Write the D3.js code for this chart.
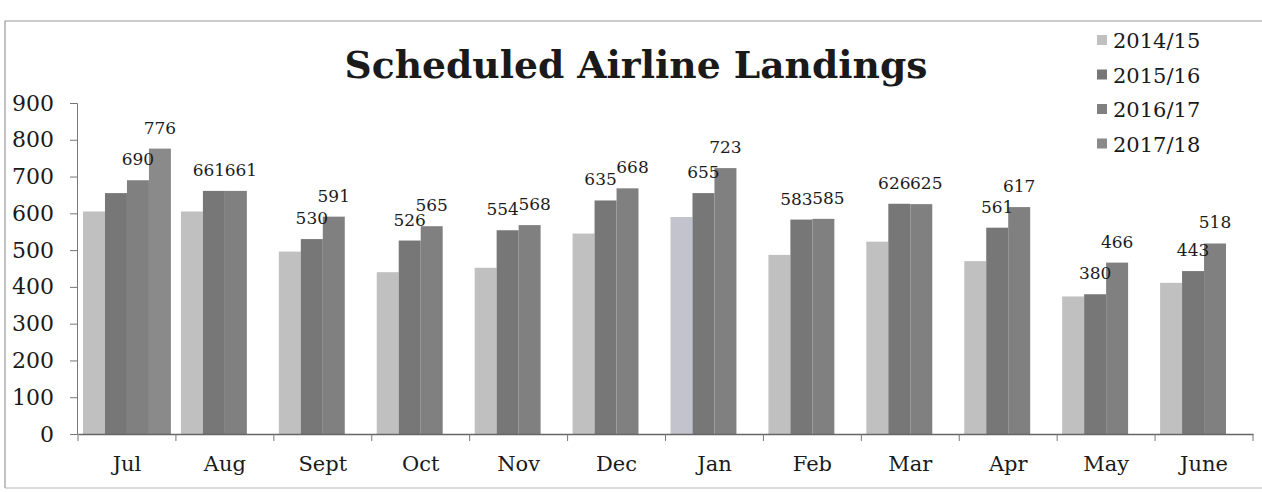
<!DOCTYPE html>
<html>
<head>
<meta charset="utf-8">
<script src="https://cdn.jsdelivr.net/npm/d3@7"></script>
<style>
  body { margin: 0; background: #fff; }
  svg { display: block; }
</style>
</head>
<body>
<div id="chart"></div>
<script>
/* Data */
const months = ['Jul', 'Aug', 'Sept', 'Oct', 'Nov', 'Dec', 'Jan', 'Feb', 'Mar', 'Apr', 'May', 'June'];
const seriesNames = ['2014/15', '2015/16', '2016/17', '2017/18'];
const y1415 = [605, 605, 496, 440, 452, 545, 590, 487, 523, 470, 374, 411];
const y1516 = [655, 661, 530, 526, 554, 635, 655, 583, 626, 561, 380, 443];
const y1617 = [690, 661, 591, 565, 568, 668, 723, 585, 625, 617, 466, 518];
const y1718 = [776, null, null, null, null, null, null, null, null, null, null, null];
const yTicks = [0, 100, 200, 300, 400, 500, 600, 700, 800, 900];

const seriesValues = [y1415, y1516, y1617, y1718];
const colors = ['#c0c0c0', '#777777', '#808080', '#8a8a8a'];

// Dimensions
const width = 1262, height = 492;
const margin = { left: 77, right: 9, top: 103, bottom: 58 };
const serif = "'DejaVu Serif', 'Liberation Serif', serif";

const svg = d3.select('#chart')
  .append('svg')
  .attr('width', width)
  .attr('height', height);

// Frame round the chart (scan border)
svg.append('path')
  .attr('d', 'M5,' + (height - 4) + 'V21H' + width)
  .attr('fill', 'none')
  .attr('stroke', '#9a9a9a')
  .attr('stroke-width', 1.2);
svg.append('line')
  .attr('x1', 5).attr('x2', width)
  .attr('y1', height - 4).attr('y2', height - 4)
  .attr('stroke', '#b5b5b5').attr('stroke-width', 1.2);

/* Scales */
const x = d3.scaleBand()
  .domain(months)
  .range([margin.left + 1, width - margin.right])
  .paddingInner(0)
  .paddingOuter(0);

const xs = d3.scaleBand()
  .domain(d3.range(seriesNames.length))
  .range([5, x.bandwidth() - 5]);

const y = d3.scaleLinear()
  .domain([0, 900])
  .range([height - margin.bottom, margin.top]);

/* Bars */
const rows = months.map((m, i) => ({
  month: m,
  values: seriesValues.map((s, k) => ({ k, v: s[i] })).filter((d) => d.v != null),
}));

const groups = svg.selectAll('g.month')
  .data(rows)
  .join('g')
  .attr('class', 'month')
  .attr('transform', (d) => `translate(${x(d.month)},0)`);

groups.selectAll('rect')
  .data((d) => d.values)
  .join('rect')
  .attr('x', (d) => xs(d.k))
  .attr('y', (d) => y(d.v))
  .attr('width', xs.bandwidth())
  .attr('height', (d) => y(0) - y(d.v))
  .attr('fill', (d, i, n) =>
    d.k === 0 && d3.select(n[i].parentNode).datum().month === 'Jan' ? '#c3c3cd' : colors[d.k]);

// Data labels on the last two bars of each month;
// labels at nearly the same height are nudged apart a little
groups.selectAll('text.lbl')
  .data((d) => {
    const last = d.values.slice(-2);
    const close = last.length === 2 && Math.abs(y(last[0].v) - y(last[1].v)) < 14;
    return last.map((e, j) => ({ ...e, dx: close ? (j === 0 ? -5 : 5) : 0 }));
  })
  .join('text')
  .attr('class', 'lbl')
  .attr('x', (d) => xs(d.k) + xs.bandwidth() / 2 + d.dx)
  .attr('y', (d) => y(d.v) - 15)
  .attr('text-anchor', 'middle')
  .style('font-family', serif)
  .style('font-size', '17px')
  .attr('fill', '#1c1c1c')
  .text((d) => d.v);

/* Axes */
const yAxis = svg.append('g')
  .attr('transform', `translate(${margin.left},0)`)
  .call(d3.axisLeft(y).tickValues(yTicks).tickSize(7).tickPadding(16));
yAxis.select('.domain').attr('stroke', '#777');
yAxis.selectAll('.tick line').attr('stroke', '#777');
yAxis.selectAll('text')
  .style('font-family', serif)
  .style('font-size', '22px')
  .attr('fill', '#1a1a1a');

const xAxis = svg.append('g')
  .attr('transform', `translate(0,${y(0)})`)
  .call(d3.axisBottom(x).tickSize(0).tickPadding(22));
xAxis.select('.domain').attr('stroke', '#666').attr('stroke-width', 1.3);
xAxis.selectAll('text')
  .style('font-family', serif)
  .style('font-size', '21px')
  .attr('fill', '#1a1a1a');

// Category boundary ticks
svg.append('g')
  .selectAll('line')
  .data(months.concat(['end']))
  .join('line')
  .attr('x1', (d) => (d === 'end' ? x.range()[1] : x(d)))
  .attr('x2', (d) => (d === 'end' ? x.range()[1] : x(d)))
  .attr('y1', y(0))
  .attr('y2', y(0) + 7)
  .attr('stroke', '#777');

/* Title */
const title = svg.append('text')
  .attr('x', 636)
  .attr('y', 78)
  .attr('text-anchor', 'middle')
  .style('font-family', serif)
  .style('font-weight', 'bold')
  .style('font-size', '40px')
  .attr('fill', '#1a1a1a')
  .text('Scheduled Airline Landings');
// fit to the reference title width
const tw = title.node().getComputedTextLength();
title.style('font-size', (40 * 583) / tw + 'px');

/* Legend */
const legend = svg.append('g')
  .attr('transform', 'translate(1097,40)')
  .selectAll('g')
  .data(seriesNames)
  .join('g')
  .attr('transform', (d, i) => `translate(0,${i * 34.5})`);

legend.append('rect')
  .attr('x', 0)
  .attr('y', -5)
  .attr('width', 10)
  .attr('height', 10)
  .attr('fill', (d, i) => colors[i]);

legend.append('text')
  .attr('x', 16)
  .attr('y', 8)
  .style('font-family', serif)
  .style('font-size', '21px')
  .attr('fill', '#1a1a1a')
  .text((d) => d);
</script>
</body>
</html>
